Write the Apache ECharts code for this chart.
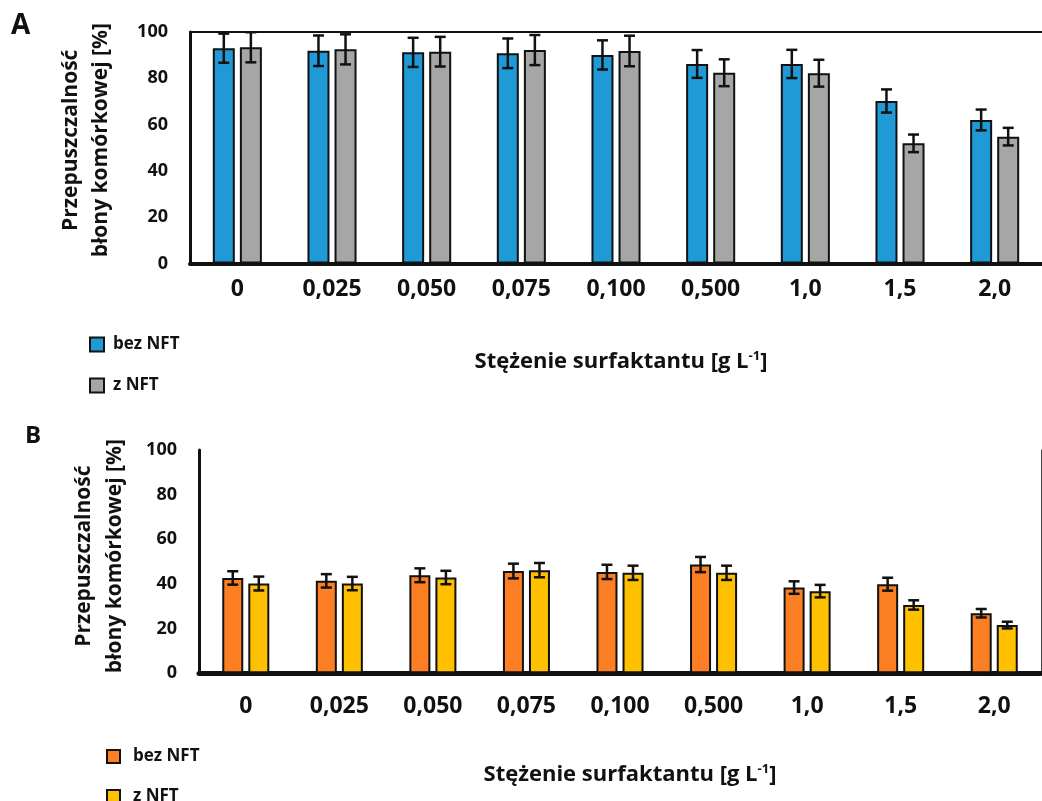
<!DOCTYPE html>
<html>
<head>
<meta charset="utf-8">
<script src="https://cdn.jsdelivr.net/npm/echarts@6/dist/echarts.min.js"></script>
<style>
html, body { margin: 0; padding: 0; background: #fff; }
#chartA { position: absolute; left: 0; top: 0; width: 1042px; height: 400px; }
#chartB { position: absolute; left: 0; top: 400px; width: 1042px; height: 401px; }
</style>
</head>
<body>
<div id="chartA"></div>
<div id="chartB"></div>
<script>
const categories = ['0', '0,025', '0,050', '0,075', '0,100', '0,500', '1,0', '1,5', '2,0'];
const seriesNames = ['bez NFT', 'z NFT'];

// panel A
const aBez = [93.0, 91.9, 91.2, 90.8, 90.1, 86.2, 86.2, 70.2, 62.0];
const aBezErr = [6.3, 6.6, 6.3, 6.4, 6.3, 6.0, 6.1, 5.0, 4.5];
const aZ = [93.4, 92.5, 91.5, 92.2, 91.8, 82.4, 82.2, 51.9, 54.8];
const aZErr = [6.5, 6.5, 6.4, 6.5, 6.6, 5.8, 5.8, 3.8, 3.8];

// panel B
const bBez = [42.7, 41.4, 43.9, 45.8, 45.4, 48.7, 38.4, 39.9, 26.9];
const bBezErr = [3.0, 3.0, 3.1, 3.3, 3.2, 3.4, 2.8, 2.9, 1.9];
const bZ = [40.2, 40.2, 42.9, 46.2, 45.0, 45.0, 36.8, 30.6, 21.6];
const bZErr = [3.1, 3.0, 3.0, 3.2, 3.2, 3.2, 2.8, 2.1, 1.5];

const FONT = 'Open Sans';
const INK = '#111';

// error bars drawn as a custom series, shifted onto each bar of the pair
function errSeries(vals, errs, offset, cap) {
  return {
    type: 'custom',
    z: 10,
    silent: true,
    clip: false,
    data: vals.map((v, i) => [i, v - errs[i], v + errs[i]]),
    encode: { x: 0, y: [1, 2] },
    renderItem: function (params, api) {
      const lo = api.coord([api.value(0), api.value(1)]);
      const hi = api.coord([api.value(0), api.value(2)]);
      const x = lo[0] + offset;
      const st = { stroke: INK, lineWidth: 2.5 };
      return {
        type: 'group',
        children: [
          { type: 'line', shape: { x1: x, y1: lo[1], x2: x, y2: hi[1] }, style: st },
          { type: 'line', shape: { x1: x - cap, y1: hi[1], x2: x + cap, y2: hi[1] }, style: st },
          { type: 'line', shape: { x1: x - cap, y1: lo[1], x2: x + cap, y2: lo[1] }, style: st }
        ]
      };
    }
  };
}

function barSeries(name, data, color, w, gap) {
  return {
    type: 'bar',
    name: name,
    data: data,
    barWidth: w,
    barGap: gap,
    itemStyle: { color: color, borderColor: INK, borderWidth: 2 },
    emphasis: { disabled: true }
  };
}

// one legend per entry so they stack like the original
function legendItem(name, p, top) {
  return {
    left: p.legendLeft,
    top: top,
    itemWidth: p.iconSize,
    itemHeight: p.iconSize,
    icon: 'rect',
    data: [name],
    selectedMode: false,
    textStyle: { fontFamily: FONT, fontSize: 17, fontWeight: 'bold', color: INK, padding: [0, 0, 0, p.legendTextPad] }
  };
}

function buildOption(p) {
  const offset = (p.barW + p.barW * p.gapRatio) / 2;
  const gapPct = Math.round(p.gapRatio * 100) + '%';
  const yAxes = [{
    type: 'value',
    min: 0, max: 100, interval: 20,
    name: 'Przepuszczalność\nbłony komórkowej [%]',
    nameLocation: 'middle',
    nameRotate: 90,
    nameGap: p.yNameGap,
    nameTextStyle: { fontFamily: FONT, fontSize: 21, fontWeight: 'bold', color: INK, lineHeight: p.yNameLH, padding: [0, 0, 0, p.yNamePad] },
    axisLine: { show: true, lineStyle: { color: INK, width: 3 } },
    axisTick: { show: false },
    splitLine: { show: false },
    axisLabel: { fontFamily: FONT, fontSize: 18, fontWeight: 'bold', color: INK, margin: p.yLabelMargin }
  }];
  if (p.rightLine) {
    yAxes.push({
      type: 'value', position: 'right', min: 0, max: 100, interval: 20,
      axisLine: { show: true, lineStyle: { color: '#444', width: 1 } },
      axisTick: { show: false }, splitLine: { show: false }, axisLabel: { show: false }
    });
  }
  return {
    animation: false,
    textStyle: { fontFamily: FONT },
    grid: { left: p.left, top: p.top, width: p.width, height: p.height },
    legend: [
      legendItem(seriesNames[0], p, p.legendTop),
      legendItem(seriesNames[1], p, p.legendTop + p.legendStep)
    ],
    xAxis: [{
      type: 'category',
      data: categories,
      name: 'Stężenie surfaktantu [g L{sup|-1}]',
      nameLocation: 'middle',
      nameGap: p.xNameGap,
      nameTextStyle: {
        fontFamily: FONT, fontSize: 22, fontWeight: 'bold', color: INK,
        padding: [0, 0, 0, p.xNamePad],
        rich: { sup: { fontFamily: FONT, fontSize: 13, fontWeight: 'bold', color: INK, padding: [0, 0, 11, 0] } }
      },
      axisLine: { lineStyle: { color: INK, width: p.bottomW } },
      axisTick: { show: false },
      axisLabel: { fontFamily: FONT, fontSize: 23, fontWeight: 'bold', color: INK, margin: p.xLabelMargin, interval: 0 }
    }, {
      type: 'category',
      position: 'top',
      data: categories,
      axisLine: { lineStyle: { color: INK, width: 2 } },
      axisTick: { show: false },
      axisLabel: { show: false }
    }],
    yAxis: yAxes,
    graphic: [{
      type: 'text', left: p.tagLeft, top: p.tagTop,
      style: { text: p.tag, fontFamily: FONT, fontSize: p.tagSize, fontWeight: 'bold', fill: INK }
    }],
    series: [
      barSeries(seriesNames[0], p.bez, p.colors[0], p.barW, gapPct),
      barSeries(seriesNames[1], p.z, p.colors[1], p.barW, gapPct),
      errSeries(p.bez, p.bezErr, -offset, 5.5),
      errSeries(p.z, p.zErr, offset, 5.5)
    ]
  };
}

const chartA = echarts.init(document.getElementById('chartA'));
chartA.setOption(buildOption({
  tag: 'A', tagLeft: 11, tagTop: 12, tagSize: 28,
  left: 190, top: 32, width: 865, height: 231.5,
  barW: 22, gapRatio: 0.23,
  bez: aBez, bezErr: aBezErr, z: aZ, zErr: aZErr,
  colors: ['#1f9ad6', '#a6a6a6'],
  bottomW: 4, rightLine: false,
  yNameGap: 74, yNameLH: 30, yNamePad: 15, yLabelMargin: 22,
  xLabelMargin: 14, xNameGap: 86, xNamePad: 10,
  legendLeft: 84, legendTop: 331, legendStep: 41, iconSize: 14, legendTextPad: 4
}));

const chartB = echarts.init(document.getElementById('chartB'));
chartB.setOption(buildOption({
  tag: 'B', tagLeft: 25, tagTop: 24, tagSize: 24,
  left: 199, top: 50, width: 842, height: 223.3,
  barW: 21, gapRatio: 0.24,
  bez: bBez, bezErr: bBezErr, z: bZ, zErr: bZErr,
  colors: ['#fd7f24', '#ffc000'],
  bottomW: 5, rightLine: true,
  yNameGap: 68, yNameLH: 31, yNamePad: 11, yLabelMargin: 22,
  xLabelMargin: 22, xNameGap: 89, xNamePad: 20,
  legendLeft: 101, legendTop: 343, legendStep: 40, iconSize: 13, legendTextPad: 8
}));
</script>
</body>
</html>
